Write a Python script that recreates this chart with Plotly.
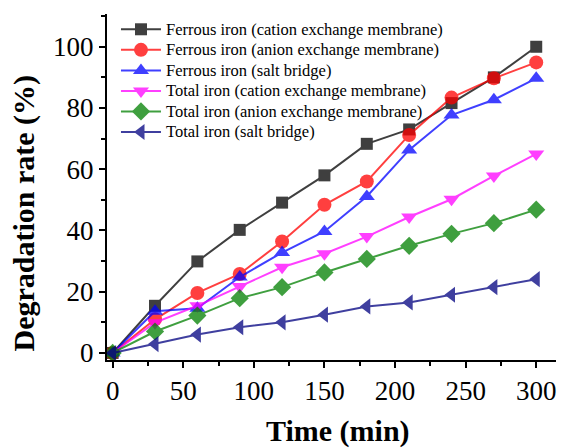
import plotly.graph_objects as go

time_min = [0, 30, 60, 90, 120, 150, 180, 210, 240, 270, 300]

ferrous_cation = [0, 15.4, 29.9, 40.2, 49.1, 58.0, 68.3, 73.0, 81.6, 90.0, 100.0]
ferrous_anion = [0, 11.0, 19.6, 25.8, 36.4, 48.4, 56.0, 71.2, 83.4, 89.7, 94.9]
ferrous_salt = [0, 13.6, 14.6, 24.8, 32.8, 39.7, 51.1, 66.3, 77.7, 82.7, 89.7]
total_cation = [0, 9.9, 15.4, 21.7, 28.0, 32.4, 38.0, 44.4, 50.2, 57.8, 65.0]
total_anion = [0, 7.0, 12.2, 17.9, 21.5, 26.3, 30.7, 35.0, 38.9, 42.4, 46.8]
total_salt = [0, 2.9, 6.0, 8.4, 10.0, 12.5, 15.2, 16.5, 19.0, 21.5, 24.1]

names = [
    "Ferrous iron (cation exchange membrane)",
    "Ferrous iron (anion exchange membrane)",
    "Ferrous iron (salt bridge)",
    "Total iron (cation exchange membrane)",
    "Total iron (anion exchange membrane)",
    "Total iron (salt bridge)",
]
series = [ferrous_cation, ferrous_anion, ferrous_salt, total_cation, total_anion, total_salt]
colors = ["#000000", "#FF0000", "#0000FF", "#FF00FF", "#008000", "#000080"]
symbols = ["square", "circle", "triangle-up", "triangle-down", "diamond", "triangle-left"]
sizes = [12, 14, 14, 14, 14, 14]

x_title = "Time (min)"
y_title = "Degradation rate (%)"

fig = go.Figure()
for n, s, c, sym, sz in zip(names, series, colors, symbols, sizes):
    fig.add_trace(go.Scatter(
        x=time_min, y=s, mode="lines+markers",
        name='<span style="font-size:16.5px">' + n + '</span>',
        line=dict(color=c, width=2),
        marker=dict(symbol=sym, size=sz, color=c, line=dict(width=0)),
        opacity=0.75,
    ))

font_family = "Liberation Serif, Times New Roman, serif"
fig.update_layout(
    width=567, height=448,
    margin=dict(l=99, r=19, t=6, b=96, autoexpand=False),
    paper_bgcolor="white", plot_bgcolor="white",
    font=dict(family=font_family, color="black"),
    showlegend=True,
    legend=dict(x=0.02, y=1.0, xanchor="left", yanchor="top",
                bgcolor="rgba(0,0,0,0)", font=dict(size=13.5, family=font_family),
                tracegroupgap=0, itemwidth=40),
    xaxis=dict(
        range=[-4, 314], tick0=0, dtick=50,
        showline=True, linecolor="black", linewidth=2, mirror=False,
        ticks="outside", ticklen=6, tickwidth=2, tickcolor="black",
        minor=dict(ticks="outside", dtick=25, tick0=0, ticklen=4, tickwidth=2, tickcolor="black"),
        showgrid=False, zeroline=False,
        tickfont=dict(size=27, family=font_family),
    ),
    yaxis=dict(
        range=[-2.3, 110.7], tick0=0, dtick=20,
        showline=True, linecolor="black", linewidth=2, mirror=False,
        ticks="outside", ticklen=6, tickwidth=2, tickcolor="black",
        minor=dict(ticks="outside", dtick=10, tick0=0, ticklen=4, tickwidth=2, tickcolor="black"),
        showgrid=False, zeroline=False,
        tickfont=dict(size=27, family=font_family),
    ),
    annotations=[
        dict(text="<b>" + x_title + "</b>", xref="paper", yref="paper",
             x=0.514, y=-0.205, xanchor="center", yanchor="middle", showarrow=False,
             font=dict(size=30, family=font_family)),
        dict(text="<b>" + y_title + "</b>", xref="paper", yref="paper",
             x=-0.185, y=0.426, xanchor="center", yanchor="middle", showarrow=False,
             textangle=-90, font=dict(size=30, family=font_family)),
    ],
)

fig.write_html("out.html")
